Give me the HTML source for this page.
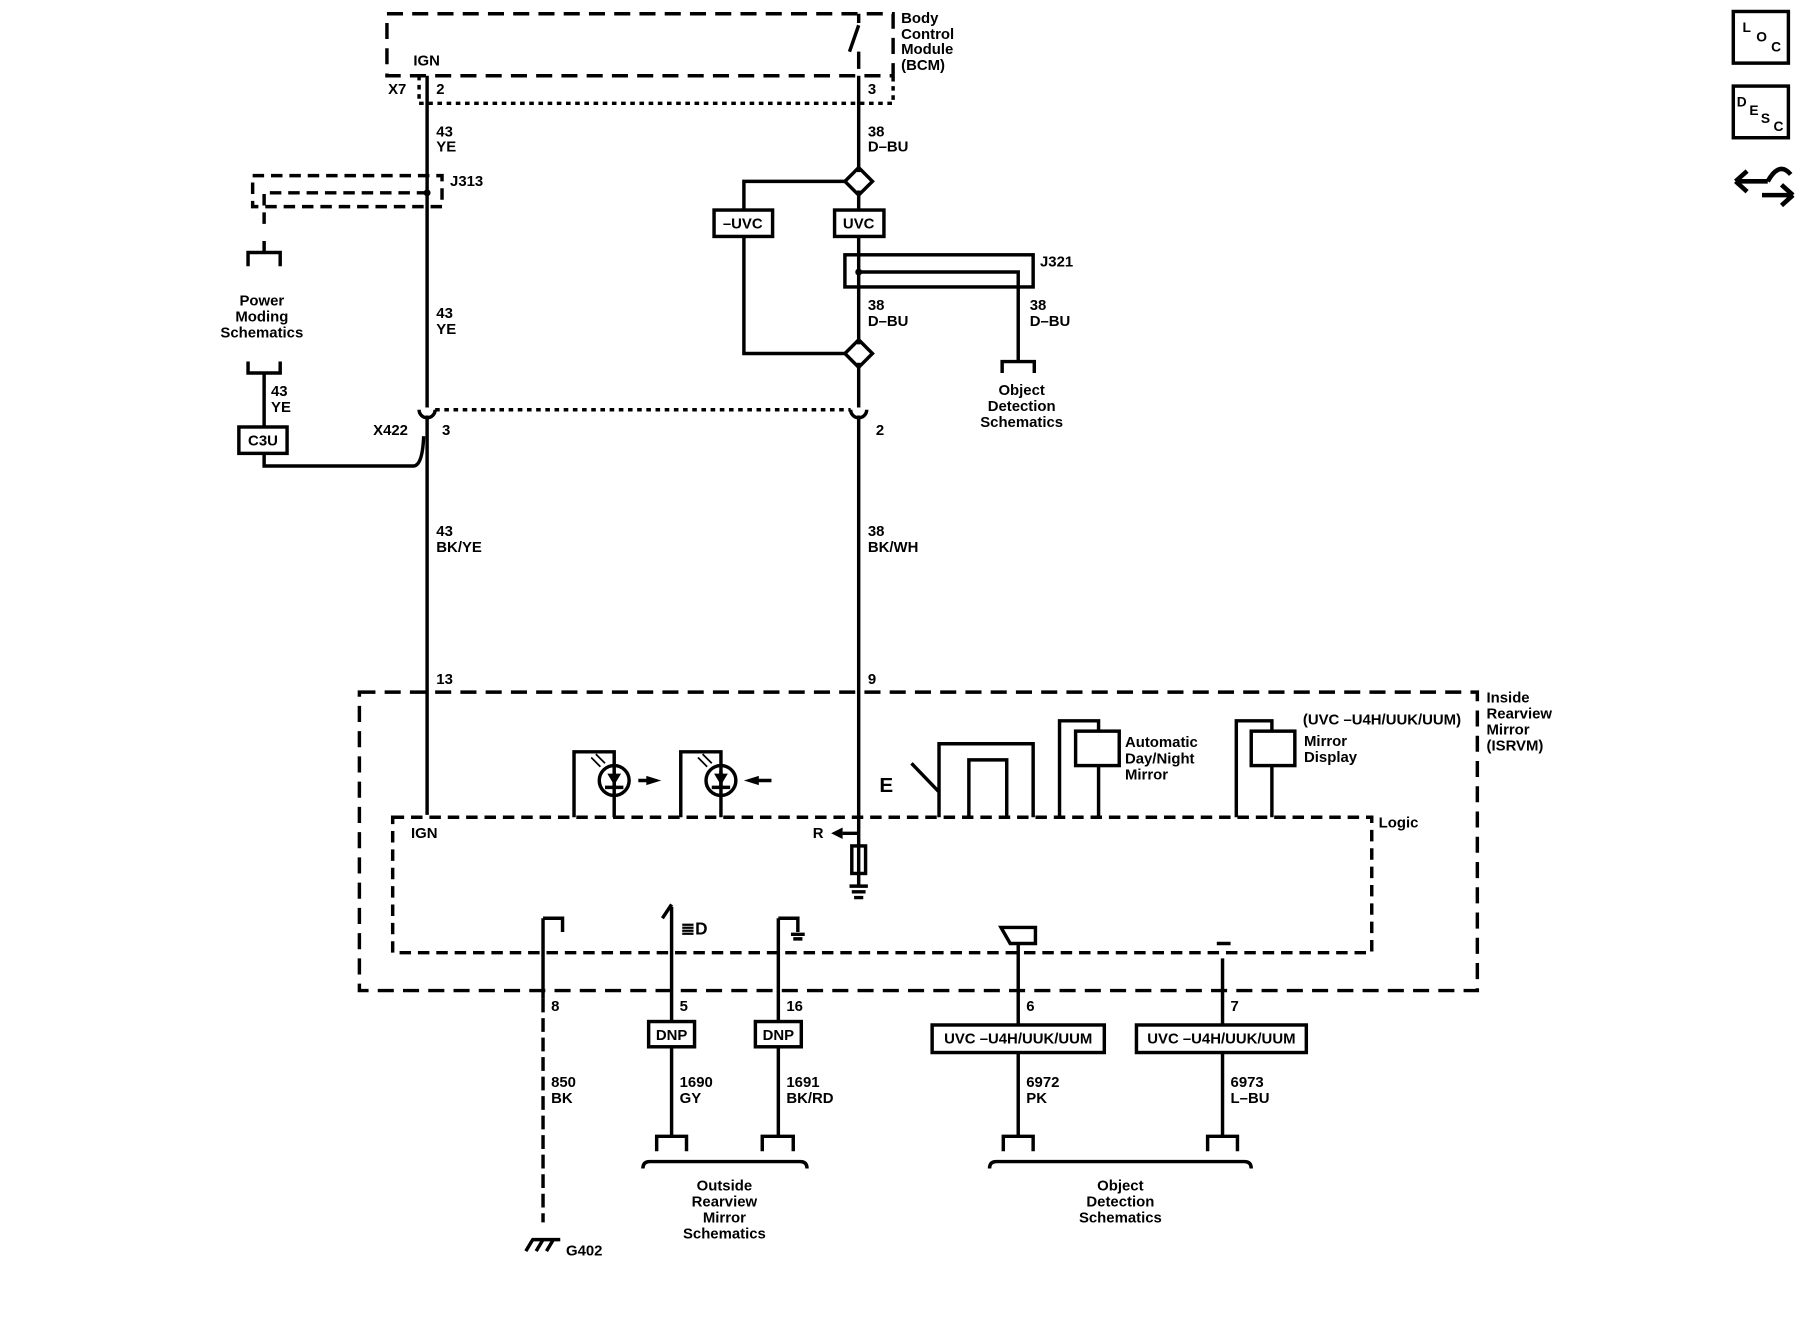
<!DOCTYPE html>
<html><head><style>
html,body{margin:0;padding:0;background:#fff;}
svg{display:block;}
text{font-family:"Liberation Sans",sans-serif;font-size:13px;font-weight:bold;fill:#000;}
</style></head><body>
<svg width="1800" height="1328" viewBox="0 0 1568 1157" xmlns="http://www.w3.org/2000/svg">
<g fill="none" stroke="#000" stroke-width="3">
<rect x="337" y="12" width="441" height="54" stroke-dasharray="14,8"/>
<path d="M365 66 V90 H778 V66" stroke-dasharray="4,4"/>
<path d="M748 12 V20 M740 45 L748 22 M748 45 V60" />
<path d="M372 66 V355 M372 362 V710"/>
<path d="M748 66 V150 M748 166 V300 M748 316 V355 M748 362 V760"/>
<path d="M365 357 a7 7 0 0 0 14 0 M741 357 a7 7 0 0 0 14 0"/>
<path d="M379 357 H741" stroke-dasharray="4,4"/>
<rect x="220" y="153" width="165" height="27" stroke-dasharray="10,6"/>
<path d="M230 195 V168 H372" stroke-dasharray="10,6"/>
<path d="M216 232 V220 H244 V232 M230 220 V210"/>
<path d="M216 315 V325 H244 V315 M230 325 V372"/>
<rect x="208" y="372" width="42" height="23"/>
<path d="M230 395 V406 H360 Q368 406 369 380"/>
<path d="M748 146 L760 158 L748 170 L736 158 Z M748 296 L760 308 L748 320 L736 308 Z"/>
<path d="M736 158 H648 V308 H736"/>
<rect x="622" y="183" width="51" height="23" fill="#fff"/>
<rect x="727" y="183" width="43" height="23" fill="#fff"/>
<rect x="736" y="222" width="164" height="28"/>
<path d="M748 237 H887 V315 M873 325 V315 H901 V325"/>
<rect x="313" y="603" width="974" height="260" stroke-dasharray="14,8"/>
<rect x="342" y="712" width="853" height="118" stroke-dasharray="10,6"/>
<path d="M500 712 V655 H535 V712 M535 655 V667 M535 695 V712"/>
<circle cx="535" cy="680" r="13"/>
<path d="M527 686 H543 M535 672 V686"/>
<path d="M556 680 H570 M593 712 V655 H628 V712 M628 655 V667 M628 695 V712"/>
<circle cx="628" cy="680" r="13"/>
<path d="M620 686 H636 M628 672 V686 M658 680 H672"/>
<path d="M515 660 L523 668 M519 657 L527 665 M608 660 L616 668 M612 657 L620 665" stroke-width="1.5"/>
<path d="M748 726 H734"/>
<rect x="742" y="737" width="12" height="24"/>
<path d="M748 761 V772 M740 772 H756 M742 777 H754 M744 782 H752"/>
<path d="M794 665 L818 690 V712 M818 690 V648 H900 V712 M844 712 V662 H877 V712"/>
<path d="M923 712 V628 H957 V637 M957 667 V712"/>
<rect x="937" y="637" width="38" height="30"/>
<path d="M1077 712 V628 H1108 V637 M1108 667 V712"/>
<rect x="1090" y="637" width="38" height="30"/>
<path d="M473 870 V1065" stroke-dasharray="12,5"/>
<path d="M473 800 V870 M473 800 H490 V812 M585 790 V890 M585 912 V990 M577 800 L585 788 M572 1003 V990 H598 V1003"/>
<path d="M678 800 V890 M678 912 V990 H664 V1003 M678 990 H691 V1003 M678 800 H695 V812 M689 814 H701 M691 818 H699"/>
<path d="M887 822 V893 M887 917 V990 H874 V1003 M887 990 H900 V1003"/>
<path d="M872 808 H902 V822 H880 Z"/>
<path d="M1065 835 V893 M1065 917 V990 H1052 V1003 M1065 990 H1078 V1003 M1060 822 H1072"/>
<rect x="565" y="890" width="40" height="22" fill="#fff"/>
<rect x="658" y="890" width="40" height="22" fill="#fff"/>
<rect x="812" y="893" width="150" height="24" fill="#fff"/>
<rect x="990" y="893" width="148" height="24" fill="#fff"/>
<path d="M560 1018 Q560 1012 566 1012 H697 Q703 1012 703 1018"/>
<path d="M862 1018 Q862 1012 868 1012 H1084 Q1090 1012 1090 1018"/>
<path d="M458 1090 L464 1080 M467 1090 L473 1080 M476 1090 L482 1080 M463 1080 H488"/>
<rect x="1510" y="10" width="48" height="45"/>
<rect x="1510" y="75" width="48" height="45"/>
<path d="M1512 158 H1540 M1512 158 L1522 149 M1512 158 L1522 167 M1535 170 H1562 M1562 170 L1552 161 M1562 170 L1552 179 M1540 158 Q1550 140 1560 152" stroke-width="4"/>
</g>
<g fill="#000">
<path d="M563 676 L576 680 L563 684 Z M648 680 L661 676 L661 684 Z M724 726 L734 721 V731 Z"/>
<path d="M529 674 H541 L535 684 Z M622 674 H634 L628 684 Z"/>
<circle cx="372" cy="168" r="3"/><circle cx="748" cy="237" r="3"/>
</g>
<text x="785" y="20">Body</text><text x="785" y="34">Control</text><text x="785" y="47">Module</text><text x="785" y="61">(BCM)</text>
<text x="360" y="57">IGN</text><text x="338" y="82">X7</text><text x="380" y="82">2</text><text x="756" y="82">3</text>
<text x="380" y="119">43</text><text x="380" y="132">YE</text>
<text x="756" y="119">38</text><text x="756" y="132">D–BU</text>
<text x="392" y="162">J313</text>
<text x="228" y="266" text-anchor="middle">Power</text><text x="228" y="280" text-anchor="middle">Moding</text><text x="228" y="294" text-anchor="middle">Schematics</text>
<text x="380" y="277">43</text><text x="380" y="291">YE</text>
<text x="236" y="345">43</text><text x="236" y="359">YE</text>
<text x="229" y="388" text-anchor="middle">C3U</text>
<text x="325" y="379">X422</text><text x="385" y="379">3</text><text x="763" y="379">2</text>
<text x="647" y="199" text-anchor="middle">–UVC</text><text x="748" y="199" text-anchor="middle">UVC</text>
<text x="906" y="232">J321</text>
<text x="756" y="270">38</text><text x="756" y="284">D–BU</text>
<text x="897" y="270">38</text><text x="897" y="284">D–BU</text>
<text x="890" y="344" text-anchor="middle">Object</text><text x="890" y="358" text-anchor="middle">Detection</text><text x="890" y="372" text-anchor="middle">Schematics</text>
<text x="380" y="467">43</text><text x="380" y="481">BK/YE</text>
<text x="756" y="467">38</text><text x="756" y="481">BK/WH</text>
<text x="380" y="596">13</text><text x="756" y="596">9</text>
<text x="1295" y="612">Inside</text><text x="1295" y="626">Rearview</text><text x="1295" y="640">Mirror</text><text x="1295" y="654">(ISRVM)</text>
<text x="1135" y="631">(UVC –U4H/UUK/UUM)</text>
<text x="1136" y="650">Mirror</text><text x="1136" y="664">Display</text>
<text x="980" y="651">Automatic</text><text x="980" y="665">Day/Night</text><text x="980" y="679">Mirror</text>
<text x="1201" y="721">Logic</text>
<text x="358" y="730">IGN</text><text x="708" y="730">R</text>
<text x="766" y="690" style="font-size:18px">E</text>
<text x="593" y="814" style="font-size:15px">≣D</text>
<text x="480" y="881">8</text><text x="592" y="881">5</text><text x="685" y="881">16</text><text x="894" y="881">6</text><text x="1072" y="881">7</text>
<text x="585" y="906" text-anchor="middle">DNP</text><text x="678" y="906" text-anchor="middle">DNP</text>
<text x="887" y="909" text-anchor="middle">UVC –U4H/UUK/UUM</text><text x="1064" y="909" text-anchor="middle">UVC –U4H/UUK/UUM</text>
<text x="480" y="947">850</text><text x="480" y="961">BK</text>
<text x="592" y="947">1690</text><text x="592" y="961">GY</text>
<text x="685" y="947">1691</text><text x="685" y="961">BK/RD</text>
<text x="894" y="947">6972</text><text x="894" y="961">PK</text>
<text x="1072" y="947">6973</text><text x="1072" y="961">L–BU</text>
<text x="631" y="1037" text-anchor="middle">Outside</text><text x="631" y="1051" text-anchor="middle">Rearview</text><text x="631" y="1065" text-anchor="middle">Mirror</text><text x="631" y="1079" text-anchor="middle">Schematics</text>
<text x="976" y="1037" text-anchor="middle">Object</text><text x="976" y="1051" text-anchor="middle">Detection</text><text x="976" y="1065" text-anchor="middle">Schematics</text>
<text x="493" y="1094">G402</text>
<text x="1518" y="28" style="font-size:12px">L</text><text x="1530" y="36" style="font-size:12px">O</text><text x="1543" y="45" style="font-size:12px">C</text>
<text x="1513" y="93" style="font-size:12px">D</text><text x="1524" y="100" style="font-size:12px">E</text><text x="1534" y="107" style="font-size:12px">S</text><text x="1545" y="114" style="font-size:12px">C</text>
</svg>
</body></html>
